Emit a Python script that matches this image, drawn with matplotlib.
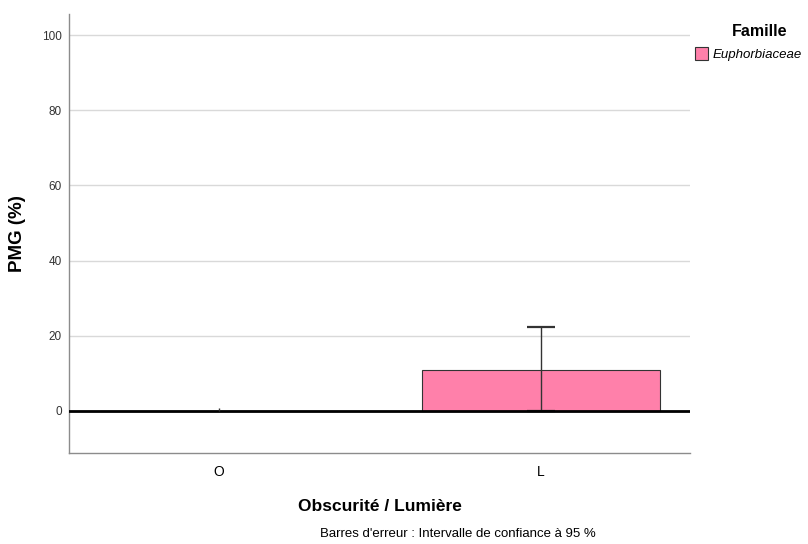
import matplotlib.pyplot as plt
from matplotlib.patches import Patch

plt.rcParams['font.family'] = ['Liberation Sans', 'DejaVu Sans']

categories = ['O', 'L']
means = [0.0, 10.9]
ci_upper = [0.9, 22.2]
famille = 'Euphorbiaceae'
bar_color = '#FF80AA'

fig = plt.figure(figsize=(8.08, 5.44), dpi=100)
ax = fig.add_axes([69 / 808, 1 - 453 / 544, 621 / 808, 439 / 544])

x = list(range(len(categories)))
ax.bar(x, means, width=0.74, color=bar_color, edgecolor='#333333', linewidth=0.8, zorder=2)
for xi, m, u in zip(x, means, ci_upper):
    # no visible cap when the interval is tiny
    cap = 10 if u - m > 1 else 0
    ax.errorbar([xi], [m], yerr=[[m], [u - m]], fmt='none', ecolor='#333333',
                elinewidth=1.0, capsize=cap, capthick=1.6, zorder=5 if cap == 0 else 3)
ax.axhline(0, color='black', linewidth=2, zorder=4)

ax.set_xlim(-0.466, 1.463)
ax.set_ylim(-11.2, 105.6)
ax.set_yticks([0, 20, 40, 60, 80, 100])
ax.set_xticks(x)
ax.set_xticklabels(categories, fontsize=10)
ax.tick_params(axis='y', labelsize=8.5, length=0, pad=5, colors='#333333')
ax.tick_params(axis='x', length=0, pad=9)
ax.yaxis.grid(True, color='#d9d9d9', linewidth=1)
ax.set_axisbelow(True)
for s in ['top', 'right']:
    ax.spines[s].set_visible(False)
for s in ['left', 'bottom']:
    ax.spines[s].set_color('#8c8c8c')
    ax.spines[s].set_linewidth(1)

ax.set_ylabel('PMG (%)', fontsize=13.5, fontweight='bold', labelpad=12)
ax.set_xlabel('Obscurité / Lumière', fontsize=12.5, fontweight='bold', labelpad=14)

fig.text(458 / 808, 1 - 534 / 544, "Barres d'erreur : Intervalle de confiance à 95 %",
         ha='center', va='center', fontsize=9.5)

fig.text(760 / 808, 1 - 31 / 544, 'Famille', ha='center', va='center',
         fontsize=11.5, fontweight='bold')
fig.legend(handles=[Patch(facecolor=bar_color, edgecolor='#333333', linewidth=0.8, label=famille)],
           loc='center left', bbox_to_anchor=(695 / 808, 1 - 54 / 544), frameon=False,
           prop={'size': 9.5, 'style': 'italic'}, handlelength=1.0, handleheight=1.1,
           handletextpad=0.35, borderpad=0, borderaxespad=0)

fig.savefig('out.png', dpi=100)
